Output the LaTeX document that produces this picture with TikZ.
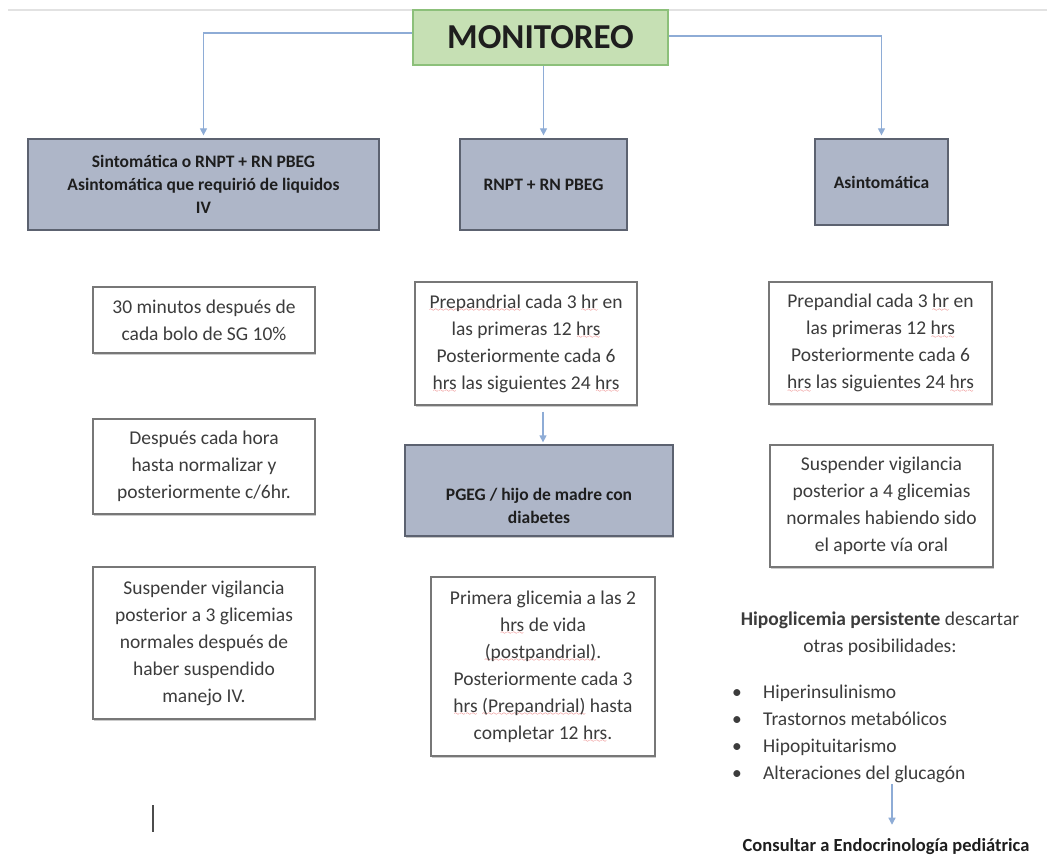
\documentclass[tikz,border=0pt]{standalone}
\usepackage{fontspec}
\setmainfont{Carlito}
\usetikzlibrary{arrows.meta,shadows}
\definecolor{txt}{HTML}{3C3C3C}
\definecolor{gtxt}{HTML}{1E1E1E}
\definecolor{boxline}{HTML}{777777}
\definecolor{gline}{HTML}{5C6270}
\definecolor{gfill}{HTML}{AEB6C8}
\definecolor{monfill}{HTML}{C6E0B4}
\definecolor{monline}{HTML}{8CC07A}
\definecolor{arrowc}{HTML}{8EACD6}
\definecolor{topline}{HTML}{E2E2E2}
\definecolor{spellred}{HTML}{E03030}
\font\wavefont=lasy6 at 6pt
\newsavebox\splbox
\newcommand\spl[1]{\sbox\splbox{#1}\leavevmode\rlap{\textcolor{spellred}{\hbox to \wd\splbox{\xleaders\hbox{\lower3.5pt\hbox{\wavefont\char58}}\hfill}}}\usebox\splbox}
\begin{document}
\begin{tikzpicture}[x=1pt,y=-1pt,
  wbox/.style={draw=boxline, line width=1.3pt, fill=white, align=center, text=txt,
    font=\fontsize{19.5}{27}\selectfont, inner sep=0pt,
    drop shadow={shadow xshift=0.8pt, shadow yshift=-1.5pt, fill=black!40, opacity=0.5}},
  gbox/.style={draw=gline, line width=1.3pt, fill=gfill, align=center, text=gtxt,
    font=\bfseries\fontsize{17.5}{23}\selectfont, inner sep=0pt,
    drop shadow={shadow xshift=0.8pt, shadow yshift=-1.5pt, fill=black!45, opacity=0.5}},
  gtext/.style={align=center, text=gtxt, font=\bfseries\fontsize{17.5}{23}\selectfont, inner sep=0pt},
  plain/.style={text=txt, font=\fontsize{19.5}{27}\selectfont, inner sep=0pt},
  conn/.style={draw=arrowc, line width=1.3pt, -{Triangle[width=7pt,length=7pt]}},
]
\useasboundingbox (0,0) rectangle (1047,861);
\fill[white] (0,0) rectangle (1047,861);
\draw[topline, line width=1.5pt] (8,10) -- (1047,10);

% title
\node[draw=monline, line width=1.5pt, fill=monfill, minimum width=255pt, minimum height=55pt,
      inner sep=0pt, text=gtxt, font=\bfseries\fontsize{35}{40}\selectfont] (mon) at (540.5,37.5) {MONITOREO};

% category boxes
\node[gbox, minimum width=351pt, minimum height=91pt] (g1) at (203.5,184.5)
  {Sintomática o RNPT + RN PBEG\\Asintomática que requirió de liquidos\\IV};
\node[gbox, minimum width=167pt, minimum height=91pt] (g2) at (543.5,184.5) {RNPT + RN PBEG};
\node[gbox, minimum width=133pt, minimum height=86pt] (g3) at (881.5,182) {Asintomática};

% left column
\node[wbox, minimum width=222pt, minimum height=66pt] (w1) at (204,320)
  {30 minutos después de\\cada bolo de SG 10\%};
\node[wbox, minimum width=222pt, minimum height=95pt] (w4) at (204,466.5)
  {Después cada hora\\hasta normalizar y\\posteriormente c/6hr.};
\node[wbox, minimum width=222pt, minimum height=152pt] (w6) at (204,643)
  {Suspender vigilancia\\posterior a 3 glicemias\\normales después de\\haber suspendido\\manejo IV.};

% middle column
\node[wbox, minimum width=222pt, minimum height=123pt] (w2) at (526,343.5)
  {\spl{Prepandrial} cada 3 \spl{hr} en\\las primeras 12 \spl{hrs}\\Posteriormente cada 6\\\spl{hrs} las siguientes 24 \spl{hrs}};
\node[gbox, minimum width=268pt, minimum height=91pt] (p) at (539,490.5) {};
\node[gtext] (pt) at (539,506) {PGEG / hijo de madre con\\diabetes};
\node[wbox, minimum width=224pt, minimum height=179pt] (w7) at (543,666.5)
  {Primera glicemia a las 2\\\spl{hrs} de vida\\\spl{(postpandrial)}.\\Posteriormente cada 3\\\spl{hrs} \spl{(Prepandrial)} hasta\\completar 12 \spl{hrs}.};

% right column
\node[wbox, minimum width=223pt, minimum height=122pt] (w3) at (880.5,343)
  {Prepandial cada 3 \spl{hr} en\\las primeras 12 \spl{hrs}\\Posteriormente cada 6\\\spl{hrs} las siguientes 24 \spl{hrs}};
\node[wbox, minimum width=223pt, minimum height=122pt] (w5) at (881.5,506)
  {Suspender vigilancia\\posterior a 4 glicemias\\normales habiendo sido\\el aporte vía oral};

\node[plain, align=center] (hip) at (880,633.5)
  {\textbf{Hipoglicemia persistente} descartar\\otras posibilidades:};
\node[plain, anchor=base west] (b1) at (732,698) {\makebox[31pt][l]{\textbullet}Hiperinsulinismo};
\node[plain, anchor=base west] (b2) at (732,725) {\makebox[31pt][l]{\textbullet}Trastornos metabólicos};
\node[plain, anchor=base west] (b3) at (732,752) {\makebox[31pt][l]{\textbullet}Hipopituitarismo};
\node[plain, anchor=base west] (b4) at (732,779) {\makebox[31pt][l]{\textbullet}Alteraciones del glucagón};
\node[plain, font=\bfseries\fontsize{18.5}{24}\selectfont, text=gtxt] (cons) at (886,847)
  {Consultar a Endocrinología pediátrica};
\coordinate (hs) at (892,784);

% connectors
\draw[conn, shorten >=3pt] (mon.west |- 0,33) -| (g1.north);
\draw[conn, shorten >=3pt] (mon.east |- 0,36) -| (g3.north);
\draw[conn, shorten >=3pt] (mon.south -| g2.north) -- (g2.north);
\draw[conn, shorten <=6pt, shorten >=2pt] ([xshift=4pt]p.north |- w2.south) -- ([xshift=4pt]p.north);
\draw[conn, shorten >=14pt] (hs) -- (hs |- cons.north);

% text cursor
\draw[black!70, line width=1.2pt] (153,805) -- (153,832);
\end{tikzpicture}
\end{document}
